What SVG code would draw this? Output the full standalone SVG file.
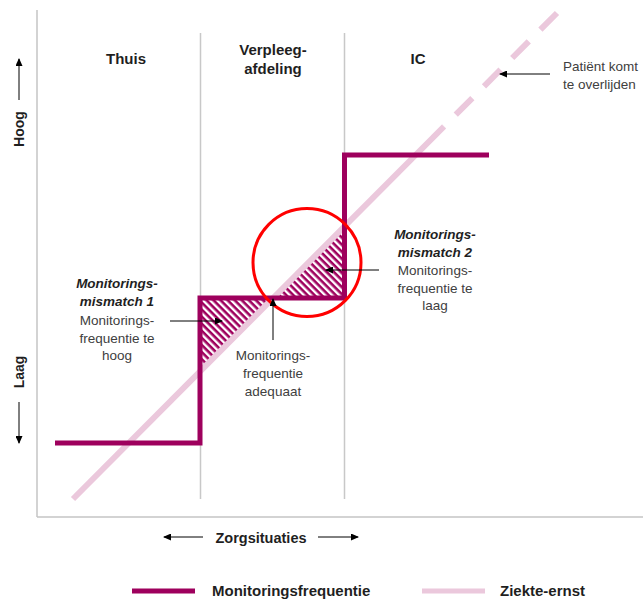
<svg xmlns="http://www.w3.org/2000/svg" width="643" height="599" viewBox="0 0 643 599">
  <style>
    .frame { stroke: #C4C4C4; stroke-width: 1.5; fill: none; }
    .divider { stroke: #C8C8C8; stroke-width: 1.5; fill: none; }
    .freq { stroke: #9E005D; stroke-width: 5; fill: none; stroke-linejoin: miter; }
    .sev { stroke: #EBC8DC; stroke-width: 6; fill: none; }
    .ptr { stroke: #000; stroke-width: 1; fill: none; }
    .head { font-family: "Liberation Sans", Arial, sans-serif; font-weight: bold; font-size: 15px; fill: #1F1F1F; }
    .axis { font-family: "Liberation Sans", Arial, sans-serif; font-weight: bold; font-size: 14px; fill: #1F1F1F; }
    .note { font-family: "Liberation Sans", Arial, sans-serif; font-size: 13.5px; fill: #404040; }
    .note-b { font-family: "Liberation Sans", Arial, sans-serif; font-size: 13.5px; font-weight: bold; font-style: italic; fill: #1F1F1F; }
    .legend { font-family: "Liberation Sans", Arial, sans-serif; font-weight: bold; font-size: 15px; fill: #1F1F1F; }
  </style>
  <defs>
    <pattern id="hatch" patternUnits="userSpaceOnUse" width="5" height="5" patternTransform="rotate(45)">
      <rect width="5" height="5" fill="#FFFFFF"/>
      <rect width="5" height="2.6" fill="#9E005D"/>
    </pattern>
    <marker id="tip" markerWidth="8" markerHeight="7" refX="7" refY="3.5" orient="auto" markerUnits="userSpaceOnUse">
      <path d="M0,0 L8,3.5 L0,7 Z" fill="#000"/>
    </marker>
  </defs>

  <!-- axes frame -->
  <g id="frame">
    <line class="frame" x1="37" y1="10" x2="37" y2="517"/>
    <line class="frame" x1="37" y1="517" x2="643" y2="517"/>
  </g>

  <!-- care-setting columns -->
  <g id="columns">
    <line class="divider" x1="200.5" y1="33" x2="200.5" y2="499"/>
    <line class="divider" x1="344.5" y1="33" x2="344.5" y2="499"/>
  </g>

  <g id="col-thuis">
    <text class="head" x="126" y="64" text-anchor="middle">Thuis</text>
  </g>
  <g id="col-verpleegafdeling">
    <text class="head" x="273" y="55" text-anchor="middle">Verpleeg-</text>
    <text class="head" x="273" y="74" text-anchor="middle">afdeling</text>
  </g>
  <g id="col-ic">
    <text class="head" x="418" y="64" text-anchor="middle">IC</text>
  </g>

  <!-- hatched mismatch areas -->
  <g id="mismatch-areas">
    <polygon points="200,298 273.2,298 200,372.5" fill="url(#hatch)"/>
    <polygon points="273.2,298 344,298 344,226.5" fill="url(#hatch)"/>
  </g>

  <!-- disease severity (diagonal) -->
  <g id="severity-line">
    <line class="sev" x1="73" y1="499" x2="444" y2="126.5"/>
    <line class="sev" x1="557" y1="13" x2="444" y2="126.5" stroke-dasharray="23.5 16.5"/>
  </g>

  <!-- monitoring frequency (step) -->
  <g id="frequency-line">
    <polyline class="freq" points="55,443 200,443 200,298 344.5,298 344.5,155 489,155"/>
  </g>

  <!-- highlight circle -->
  <g id="highlight">
    <circle cx="307" cy="262.5" r="54" fill="none" stroke="#FF0000" stroke-width="3"/>
  </g>

  <!-- pointer connectors -->
  <g id="connectors">
    <line class="ptr" x1="170" y1="321" x2="222" y2="321" marker-end="url(#tip)"/>
    <line class="ptr" x1="379" y1="270" x2="326" y2="270" marker-end="url(#tip)"/>
    <line class="ptr" x1="273" y1="340" x2="273" y2="299" marker-end="url(#tip)"/>
    <line class="ptr" x1="550" y1="74" x2="500" y2="74" marker-end="url(#tip)"/>
    <line class="ptr" x1="19" y1="100" x2="19" y2="59" marker-end="url(#tip)"/>
    <line class="ptr" x1="19" y1="402" x2="19" y2="443" marker-end="url(#tip)"/>
    <line class="ptr" x1="203" y1="537" x2="164" y2="537" marker-end="url(#tip)"/>
    <line class="ptr" x1="318" y1="537" x2="358" y2="537" marker-end="url(#tip)"/>
  </g>

  <!-- annotations -->
  <g id="note-mismatch-1">
    <text class="note-b" x="117" y="288" text-anchor="middle">Monitorings-</text>
    <text class="note-b" x="117" y="306" text-anchor="middle">mismatch 1</text>
    <text class="note" x="117" y="325" text-anchor="middle">Monitorings-</text>
    <text class="note" x="117" y="343" text-anchor="middle">frequentie te</text>
    <text class="note" x="117" y="360" text-anchor="middle">hoog</text>
  </g>
  <g id="note-mismatch-2">
    <text class="note-b" x="435" y="239" text-anchor="middle">Monitorings-</text>
    <text class="note-b" x="435" y="257" text-anchor="middle">mismatch 2</text>
    <text class="note" x="435" y="275" text-anchor="middle">Monitorings-</text>
    <text class="note" x="435" y="293" text-anchor="middle">frequentie te</text>
    <text class="note" x="435" y="310" text-anchor="middle">laag</text>
  </g>
  <g id="note-adequaat">
    <text class="note" x="273" y="360" text-anchor="middle">Monitorings-</text>
    <text class="note" x="273" y="378" text-anchor="middle">frequentie</text>
    <text class="note" x="273" y="396" text-anchor="middle">adequaat</text>
  </g>
  <g id="note-overlijden">
    <text class="note" x="563" y="71">Patiënt komt</text>
    <text class="note" x="563" y="89">te overlijden</text>
  </g>

  <!-- axis labels -->
  <g id="axis-hoog">
    <text class="axis" transform="translate(24,129) rotate(-90)" text-anchor="middle">Hoog</text>
  </g>
  <g id="axis-laag">
    <text class="axis" transform="translate(24,372) rotate(-90)" text-anchor="middle">Laag</text>
  </g>
  <g id="axis-zorgsituaties">
    <text class="axis" x="261" y="543" text-anchor="middle" style="font-size:14.5px">Zorgsituaties</text>
  </g>

  <!-- legend -->
  <g id="legend">
    <line x1="132" y1="591" x2="195" y2="591" stroke="#9E005D" stroke-width="5"/>
    <text class="legend" x="212" y="596">Monitoringsfrequentie</text>
    <line x1="422" y1="591" x2="485" y2="591" stroke="#EBC8DC" stroke-width="5"/>
    <text class="legend" x="500" y="596">Ziekte-ernst</text>
  </g>
</svg>
